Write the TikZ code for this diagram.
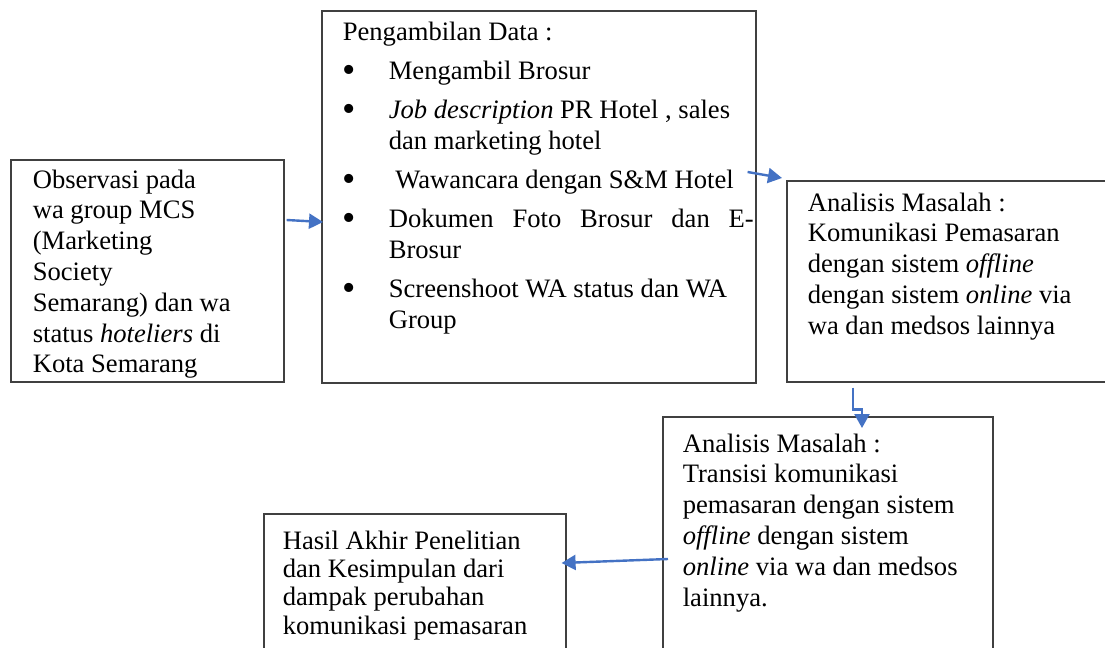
\documentclass[tikz,border=0pt]{standalone}
\usepackage{fontspec}
\setmainfont{Liberation Serif}
\usetikzlibrary{arrows.meta, calc}

\definecolor{flowblue}{RGB}{68, 114, 196}
\definecolor{framegray}{RGB}{64, 64, 64}

\newcommand{\bul}{\makebox[23pt][l]{\raisebox{-1.6pt}{\fontsize{19}{15}\selectfont\textbullet}}}

\tikzset{
    stepbox/.style={draw=framegray, line width=0.8pt, anchor=north west, inner xsep=10.5pt, inner ysep=5pt, font=\fontsize{13.3}{15.4}\selectfont},
    flowarrow/.style={-{Triangle[length=7pt, width=7.5pt]}, line width=1.2pt, draw=flowblue},
}

\begin{document}
\begin{tikzpicture}[x=1pt, y=-1pt]
    \path[use as bounding box, fill=white] (0,0) rectangle (552.5,324);

    % Observasi
    \node[stepbox, inner xsep=11pt, inner ysep=4.9pt] (obs) at (5,79.5) {\parbox[t][101.2pt][t]{114.5pt}{%
        Observasi pada\\
        wa group MCS\\
        (Marketing\\
        Society\\
        Semarang) dan wa\\
        status \textit{hoteliers} di\\
        Kota Semarang}};

    % Pengambilan data
    \node[stepbox, inner ysep=5.4pt] (data) at (160.5,5) {\parbox[t][175.2pt][t]{196pt}{\setlength{\parskip}{4.2pt}%
        Pengambilan Data :\par
        \bul\mbox{Mengambil Brosur}\par
        \bul\mbox{\textit{Job description} PR Hotel , sales}\\
        \hspace*{23pt}dan marketing hotel\par
        \bul\mbox{\ Wawancara dengan S\&M Hotel}\par
        \bul\makebox[182.5pt][s]{Dokumen Foto Brosur dan E-}\\
        \hspace*{23pt}Brosur\par
        \bul\mbox{Screenshoot WA status dan WA}\\
        \hspace*{23pt}Group}};

    % Analisis 1
    \node[stepbox, inner ysep=5.9pt] (masalah) at (393,90) {\parbox[t][88.7pt][t]{143.5pt}{%
        Analisis Masalah :\\
        Komunikasi Pemasaran\\
        dengan sistem \textit{offline}\\
        dengan sistem \textit{online} via\\
        wa dan medsos lainnya}};

    % Analisis 2
    \node[stepbox, inner xsep=10pt, inner ysep=8.4pt] (transisi) at (331,208) {\parbox[t][105.2pt][t]{145pt}{%
        Analisis Masalah :\\
        Transisi komunikasi\\
        pemasaran dengan sistem\\
        \textit{offline} dengan sistem\\
        \textit{online} via wa dan medsos\\
        lainnya.}};

    % Hasil
    \node[stepbox, inner xsep=9.5pt, inner ysep=8.4pt] (hasil) at (131.5,256.5) {\parbox[t][56.7pt][t]{132pt}{\fontsize{13.3}{14.2}\selectfont
        Hasil Akhir Penelitian\\
        dan Kesimpulan dari\\
        dampak perubahan\\
        komunikasi pemasaran}};

    \draw[flowarrow] ($(obs.north east)+(1,30.5)$) -- ($(data.north west)+(1,106)$);
    \draw[flowarrow] ($(data.north east)+(-4.5,81)$) -- ($(masalah.north west)+(-2,-1)$);
    \draw[flowarrow] ($(masalah.south west)+(33.5,2.5)$) -- ++(0,11) -| ($(transisi.north west)+(100,6)$);
    \draw[flowarrow] ($(transisi.north west)+(3,71.5)$) -- ($(hasil.north east)+(-2.5,25)$);
\end{tikzpicture}
\end{document}
